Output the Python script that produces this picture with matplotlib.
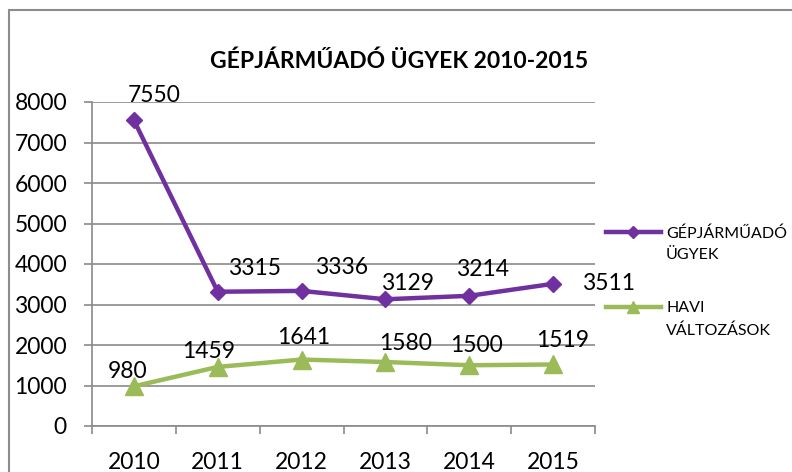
import matplotlib
matplotlib.use('Agg')
import matplotlib.pyplot as plt
from matplotlib.lines import Line2D
from matplotlib.patches import Rectangle

# ==========================================
# DATA
# ==========================================
years = ['2010', '2011', '2012', '2013', '2014', '2015']
ugyek = [7550, 3315, 3336, 3129, 3214, 3511]
havi = [980, 1459, 1641, 1580, 1500, 1519]

title = 'GÉPJÁRMŰADÓ ÜGYEK 2010-2015'
label_ugyek = 'GÉPJÁRMŰADÓ\nÜGYEK'
label_havi = 'HAVI\nVÁLTOZÁSOK'

# data label offsets in pixels (dx right, dy down)
off_ugyek = [(20, -25), (37, -23), (40, -23), (22, -16), (13, -26), (55, 0)]
off_havi = [(-6, -15), (-9, -15), (2, -22), (20, -19), (7, -20), (10, -24)]

PURPLE = '#7030A0'
GREEN = '#9BBB59'
GRID = '#8a8a8a'
FS = 16.5

plt.rcParams['font.family'] = ['Lato', 'DejaVu Sans']

W, H = 792, 472
fig = plt.figure(figsize=(W / 100, H / 100), dpi=100)

def fx(px):
    return px / W

def fy(py):
    return 1 - py / H

ax = fig.add_axes([fx(92), fy(426), fx(595) - fx(92), fy(102) - fy(426)])

x = list(range(len(years)))
ax.plot(x, ugyek, color=PURPLE, lw=3.2, marker='D', ms=8.5, zorder=3)
ax.plot(x, havi, color=GREEN, lw=3.2, marker='^', ms=13, zorder=3)

for xi, v, (dx, dy) in zip(x, ugyek, off_ugyek):
    ax.annotate(str(v), (xi, v), xytext=(dx * 0.72, -dy * 0.72), textcoords='offset points',
                ha='center', va='center', fontsize=FS, color='black', zorder=4)
for xi, v, (dx, dy) in zip(x, havi, off_havi):
    ax.annotate(str(v), (xi, v), xytext=(dx * 0.72, -dy * 0.72), textcoords='offset points',
                ha='center', va='center', fontsize=FS, color='black', zorder=4)

ax.set_xlim(-0.5, len(years) - 0.5)
ax.set_ylim(0, 8000)
ax.set_yticks(range(0, 8001, 1000))
ax.yaxis.grid(True, color=GRID, lw=1.2)
ax.set_axisbelow(True)

# category boundaries as ticks, labels centred
ax.set_xticks([i - 0.5 for i in range(len(years) + 1)])
ax.set_xticklabels([])
ax.set_xticks(x, minor=True)
ax.set_xticklabels(years, minor=True)
ax.tick_params(axis='x', which='minor', length=0, pad=19, labelsize=FS)
ax.tick_params(axis='x', which='major', length=6, width=1.2, color=GRID)
ax.tick_params(axis='y', length=6, width=1.2, color=GRID, pad=12, labelsize=FS)

for s in ['top', 'right']:
    ax.spines[s].set_visible(False)
for s in ['left', 'bottom']:
    ax.spines[s].set_color(GRID)
    ax.spines[s].set_linewidth(1.2)

fig.text(fx(399), fy(61), title, ha='center', va='center', fontsize=16.5, fontweight='bold')

# legend drawn by hand
for ly, col, mk, ms, lab in [(232, PURPLE, 'D', 6, label_ugyek), (307, GREEN, '^', 9, label_havi)]:
    fig.add_artist(Line2D([fx(606), fx(661)], [fy(ly), fy(ly)], color=col, lw=3.2,
                          transform=fig.transFigure))
    fig.add_artist(Line2D([fx(633)], [fy(ly)], color=col, marker=mk, ms=ms,
                          transform=fig.transFigure))
    fig.text(fx(666), fy(ly - 6), lab, ha='left', va='top', fontsize=11.5, linespacing=1.7)

# outer chart border (cropped at right and bottom)
fig.add_artist(Rectangle((fx(9), -0.2), 1.5, fy(10) + 0.2, transform=fig.transFigure,
                         fill=False, ec='#8c8c8c', lw=1.5))

fig.savefig('out.png', dpi=100)
